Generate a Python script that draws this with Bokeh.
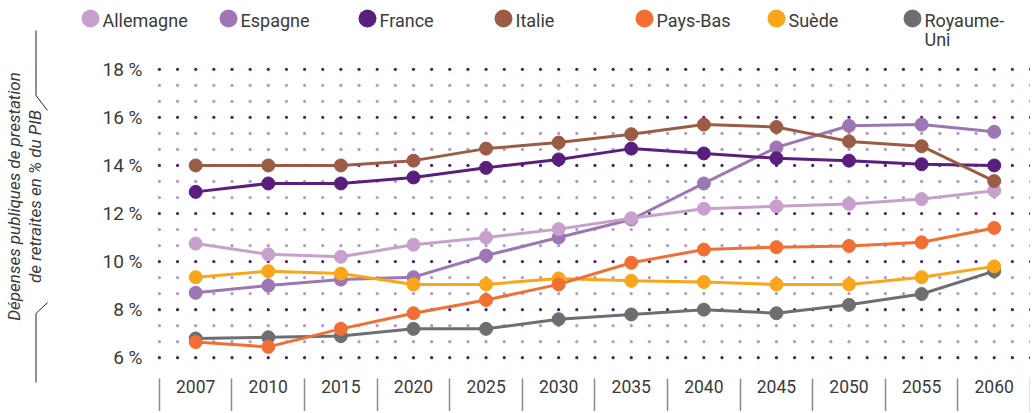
import numpy as np
from bokeh.plotting import figure
from bokeh.layouts import row, column
from bokeh.models import Range1d, FixedTicker, CustomJSTickFormatter
from bokeh.core.properties import value
from bokeh.embed import file_html
from bokeh.resources import INLINE

# ---------------- data ----------------
years = ["2007", "2010", "2015", "2020", "2025", "2030", "2035",
         "2040", "2045", "2050", "2055", "2060"]
countries = ["Allemagne", "Espagne", "France", "Italie", "Pays-Bas", "Suède", "Royaume-Uni"]
legend_labels = ["Allemagne", "Espagne", "France", "Italie", "Pays-Bas", "Suède", "Royaume-\nUni"]
colors = ["#c8a0cc", "#9d76b4", "#5a1f7e", "#9b5b45", "#f26f33", "#f9a61b", "#6d6e70"]

allemagne = [10.75, 10.3, 10.2, 10.7, 11.0, 11.35, 11.8, 12.2, 12.3, 12.4, 12.6, 12.95]
espagne = [8.7, 9.0, 9.25, 9.35, 10.25, 11.0, 11.75, 13.25, 14.75, 15.65, 15.7, 15.4]
france = [12.9, 13.25, 13.25, 13.5, 13.9, 14.25, 14.7, 14.5, 14.3, 14.2, 14.05, 14.0]
italie = [14.0, 14.0, 14.0, 14.2, 14.7, 14.95, 15.3, 15.7, 15.6, 15.0, 14.8, 13.35]
pays_bas = [6.65, 6.45, 7.2, 7.85, 8.4, 9.05, 9.95, 10.5, 10.6, 10.65, 10.8, 11.4]
suede = [9.35, 9.6, 9.5, 9.05, 9.05, 9.3, 9.2, 9.15, 9.05, 9.05, 9.35, 9.8]
royaume_uni = [6.8, 6.85, 6.9, 7.2, 7.2, 7.6, 7.8, 8.0, 7.85, 8.2, 8.65, 9.6]

series = {
    "Allemagne": allemagne, "Espagne": espagne, "France": france, "Italie": italie,
    "Pays-Bas": pays_bas, "Suède": suede, "Royaume-Uni": royaume_uni,
}
draw_order = ["Royaume-Uni", "Espagne", "Allemagne", "France", "Italie", "Suède", "Pays-Bas"]

y_ticks = [6, 8, 10, 12, 14, 16, 18]
y_title = "Dépenses publiques de prestation\nde retraites en % du PIB"

FONT = "Roboto"
TXT = "#3a3a3a"

# ---------------- main chart ----------------
n = len(years)
x_pos = [i + 0.5 for i in range(n)]

p = figure(width=958, height=359, x_range=Range1d(-0.04, n), y_range=Range1d(5.8, 18.2),
           output_backend="svg", toolbar_location=None,
           min_border_left=84, min_border_right=0, min_border_top=12, min_border_bottom=49)
p.frame_align = False
p.outline_line_color = None
p.xgrid.visible = False
p.ygrid.visible = False

# dotted background grid
gx = np.arange(0, n + 0.001, 0.25)
gy = [y_ticks[0] + k * 2 / 3 for k in range(3 * (len(y_ticks) - 1) + 1)]
dark_x, dark_y, light_x, light_y = [], [], [], []
for k, yy in enumerate(gy):
    for xx in gx:
        if k % 3 == 0:
            dark_x.append(xx); dark_y.append(yy)
        else:
            light_x.append(xx); light_y.append(yy)
p.scatter(light_x, light_y, size=3.2, color="#b495cf", line_color=None)
p.scatter(dark_x, dark_y, size=3.2, color="#4f1c78", line_color=None)

for name in draw_order:
    c = colors[countries.index(name)]
    p.line(x_pos, series[name], line_color=c, line_width=3)
    p.scatter(x_pos, series[name], size=13, fill_color=c, line_color=c)

# x axis: labels at centres, separators as minor ticks
xa = p.xaxis[0]
xa.ticker = FixedTicker(ticks=x_pos, minor_ticks=list(range(0, n + 1)))
xa.formatter = CustomJSTickFormatter(args=dict(labels=years),
                                     code="return labels[Math.floor(tick)];")
xa.axis_line_color = None
xa.major_tick_line_color = None
xa.major_tick_in = 0
xa.major_tick_out = 0
xa.minor_tick_out = 16
xa.minor_tick_in = -49
xa.minor_tick_line_color = "#8c8c8c"
xa.minor_tick_line_width = 1.5
xa.major_label_standoff = 1
xa.major_label_text_font = FONT
xa.major_label_text_font_size = "17.5px"
xa.major_label_text_color = TXT

ya = p.yaxis[0]
ya.ticker = FixedTicker(ticks=y_ticks)
ya.major_label_overrides = {t: f"{t} %" for t in y_ticks}
ya.axis_line_color = None
ya.major_tick_line_color = None
ya.major_tick_in = 0
ya.major_tick_out = 0
ya.minor_tick_line_color = None
ya.major_label_standoff = 14
ya.major_label_text_font = FONT
ya.major_label_text_font_size = "19px"
ya.major_label_text_color = TXT

# ---------------- legend (top strip) ----------------
top = figure(width=958, height=52, x_range=Range1d(0, 958), y_range=Range1d(52, 0),
             output_backend="svg", toolbar_location=None, x_axis_type=None, y_axis_type=None,
             min_border=0)
top.frame_align = False
top.outline_line_color = None
top.xgrid.visible = False
top.ygrid.visible = False
legend_x = [18, 156, 295, 431, 572, 704, 840]
top.scatter(legend_x, [18] * len(legend_x), size=18, fill_color=colors, line_color=None)
top.text([v + 12 for v in legend_x], [9] * len(legend_x), text=legend_labels,
         text_font=value(FONT), text_font_size="18px", text_color=TXT,
         text_baseline="top", text_align="left", text_line_height=0.95)

# ---------------- left strip: axis title with bracket ----------------
left = figure(width=72, height=411, x_range=Range1d(0, 72), y_range=Range1d(411, 0),
              output_backend="svg", toolbar_location=None, x_axis_type=None, y_axis_type=None,
              min_border=0)
left.frame_align = False
left.outline_line_color = None
left.xgrid.visible = False
left.ygrid.visible = False
left.line([35.5, 35.5, 47], [30, 95, 110], line_color="#222222", line_width=1)
left.line([47, 35.5, 35.5], [302, 313, 382], line_color="#222222", line_width=1)
left.text([23.5], [196], text=[y_title], angle=np.pi / 2,
          text_font=value(FONT), text_font_size="17px", text_font_style="italic",
          text_color=TXT, text_align="center", text_baseline="middle", text_line_height=1.05)

layout = row(left, column(top, p))
open("out.html", "w").write(file_html(layout, INLINE))
